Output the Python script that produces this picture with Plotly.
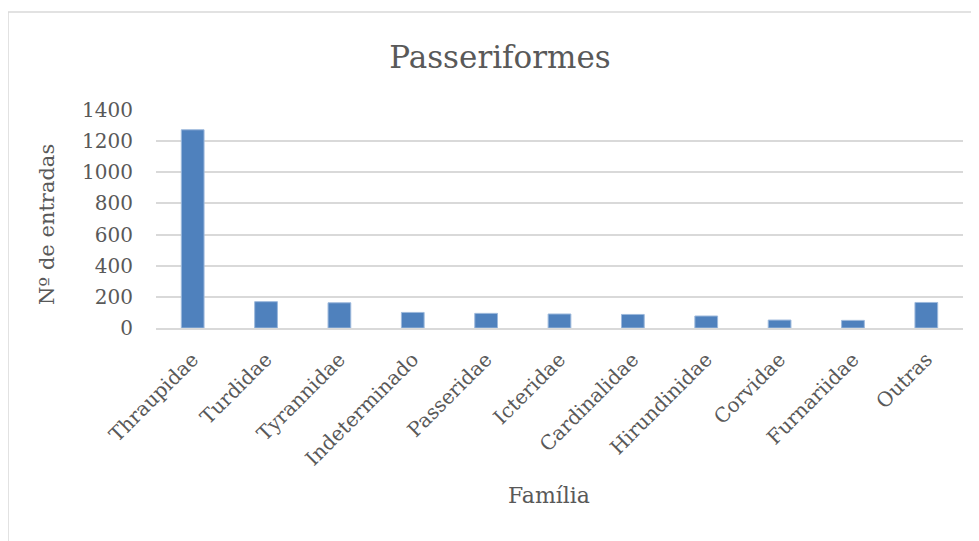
import plotly.graph_objects as go

familias = ["Thraupidae", "Turdidae", "Tyrannidae", "Indeterminado", "Passeridae",
            "Icteridae", "Cardinalidae", "Hirundinidae", "Corvidae", "Furnariidae", "Outras"]
entradas = [1273, 169, 162, 100, 94, 90, 87, 77, 51, 49, 164]
y_ticks = [0, 200, 400, 600, 800, 1000, 1200, 1400]

OFF = 8  # browser body margin
W, H = 979 - OFF, 541 - OFF
L, R, T = 156 - OFF, 16, 110 - OFF
ph = 218
B = H - T - ph
pw = W - L - R

def px_x(v):  # page px -> paper x
    return (v - OFF - L) / pw

def px_y(v):  # page px -> paper y
    return ((T + ph) - (v - OFF)) / ph

FONT = "DejaVu Serif"
GRAY = "#595959"

fig = go.Figure(go.Bar(
    x=familias, y=entradas,
    marker=dict(color="#4F81BD", line=dict(color="#9DB9DC", width=1)),
    width=0.31,
))

fig.update_layout(
    width=W, height=H,
    margin=dict(l=L, r=R, t=T, b=B),
    paper_bgcolor="white", plot_bgcolor="white",
    font=dict(family=FONT, color=GRAY, size=18),
    showlegend=False,
    title=dict(text="Passeriformes", font=dict(family=FONT, size=31, color=GRAY),
               x=(500 - OFF) / W, xref="container", xanchor="center",
               y=1 - (57 - OFF) / H, yanchor="middle"),
    xaxis=dict(tickangle=-45, showgrid=False, showline=True, linecolor="#D9D9D9",
               linewidth=1.5, ticks="", tickfont=dict(size=20, color=GRAY),
               ticklabelstandoff=10, range=[-0.5, len(familias) - 0.5]),
    yaxis=dict(range=[0, 1400], tickvals=y_ticks, showgrid=True, gridcolor="#D9D9D9",
               gridwidth=1.5, zeroline=False, showline=False, ticks="",
               tickfont=dict(size=20, color=GRAY), ticklabelstandoff=22),
)

# x-axis title
fig.add_annotation(text="Família", xref="paper", yref="paper",
                   x=px_x(549), y=px_y(495),
                   showarrow=False, font=dict(size=22, color=GRAY, family=FONT),
                   xanchor="center", yanchor="middle")
# y-axis title
fig.add_annotation(text="Nº de entradas", xref="paper", yref="paper",
                   x=px_x(47), y=px_y(225), textangle=-90,
                   showarrow=False, font=dict(size=21, color=GRAY, family=FONT),
                   xanchor="center", yanchor="middle")

# chart area border
fig.add_shape(type="rect", xref="paper", yref="paper",
              x0=px_x(8), x1=px_x(1040),
              y0=px_y(620), y1=px_y(12),
              line=dict(color="#D9D9D9", width=1.5), fillcolor="rgba(0,0,0,0)", layer="below")

fig.write_html("out.html")
